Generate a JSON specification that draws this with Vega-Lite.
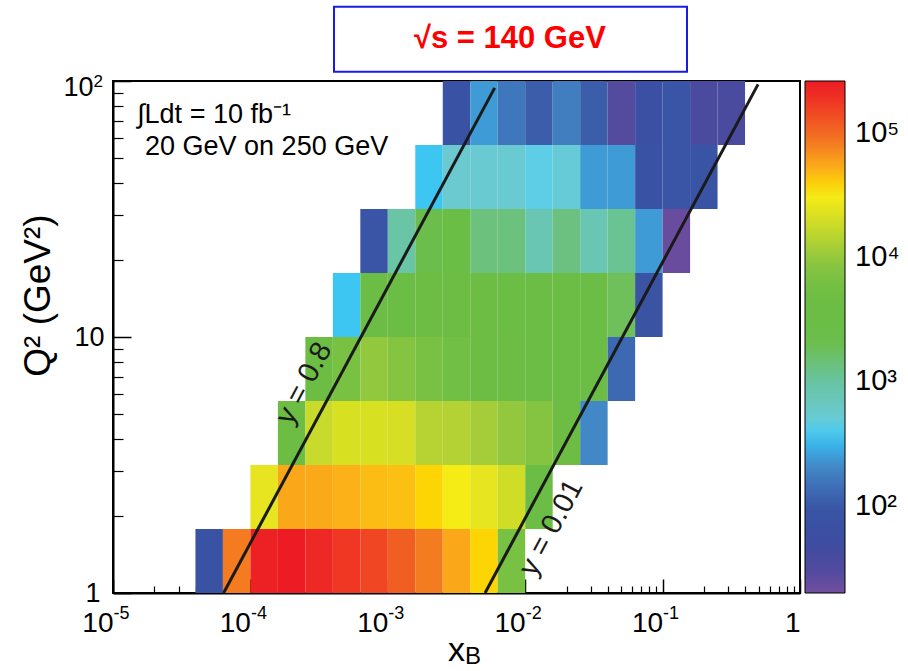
{
  "$schema": "https://vega.github.io/schema/vega-lite/v6.json",
  "width": 687,
  "height": 512,
  "autosize": {"type": "none"},
  "padding": {"left": 113, "top": 81, "right": 108, "bottom": 78},
  "background": "white",
  "config": {
    "font": "Liberation Sans",
    "view": {"stroke": "black", "strokeWidth": 2},
    "axis": {"labelFont": "Liberation Sans", "titleFont": "Liberation Sans", "labelColor": "black", "titleColor": "black", "titleFontWeight": "normal", "grid": false, "tickColor": "black", "domainColor": "black"},
    "legend": {"labelFont": "Liberation Sans", "labelColor": "black"}
  },
  "datasets": {
    "cells": [
      {"xlo": 3.981e-5, "xhi": 6.310e-5, "qlo": 1, "qhi": 1.778, "n": 77},
      {"xlo": 6.310e-5, "xhi": 1.000e-4, "qlo": 1, "qhi": 1.778, "n": 81400},
      {"xlo": 1.000e-4, "xhi": 1.585e-4, "qlo": 1, "qhi": 1.778, "n": 240000},
      {"xlo": 1.585e-4, "xhi": 2.512e-4, "qlo": 1, "qhi": 1.778, "n": 258000},
      {"xlo": 2.512e-4, "xhi": 3.981e-4, "qlo": 1, "qhi": 1.778, "n": 214000},
      {"xlo": 3.981e-4, "xhi": 6.310e-4, "qlo": 1, "qhi": 1.778, "n": 177000},
      {"xlo": 6.310e-4, "xhi": 1.000e-3, "qlo": 1, "qhi": 1.778, "n": 145000},
      {"xlo": 1.000e-3, "xhi": 1.585e-3, "qlo": 1, "qhi": 1.778, "n": 112000},
      {"xlo": 1.585e-3, "xhi": 2.512e-3, "qlo": 1, "qhi": 1.778, "n": 81000},
      {"xlo": 2.512e-3, "xhi": 3.981e-3, "qlo": 1, "qhi": 1.778, "n": 55000},
      {"xlo": 3.981e-3, "xhi": 6.310e-3, "qlo": 1, "qhi": 1.778, "n": 37500},
      {"xlo": 6.310e-3, "xhi": 1.000e-2, "qlo": 1, "qhi": 1.778, "n": 6500},

      {"xlo": 1.000e-4, "xhi": 1.585e-4, "qlo": 1.778, "qhi": 3.162, "n": 25500},
      {"xlo": 1.585e-4, "xhi": 2.512e-4, "qlo": 1.778, "qhi": 3.162, "n": 55000},
      {"xlo": 2.512e-4, "xhi": 3.981e-4, "qlo": 1.778, "qhi": 3.162, "n": 54000},
      {"xlo": 3.981e-4, "xhi": 6.310e-4, "qlo": 1.778, "qhi": 3.162, "n": 50000},
      {"xlo": 6.310e-4, "xhi": 1.000e-3, "qlo": 1.778, "qhi": 3.162, "n": 45500},
      {"xlo": 1.000e-3, "xhi": 1.585e-3, "qlo": 1.778, "qhi": 3.162, "n": 44000},
      {"xlo": 1.585e-3, "xhi": 2.512e-3, "qlo": 1.778, "qhi": 3.162, "n": 37500},
      {"xlo": 2.512e-3, "xhi": 3.981e-3, "qlo": 1.778, "qhi": 3.162, "n": 30900},
      {"xlo": 3.981e-3, "xhi": 6.310e-3, "qlo": 1.778, "qhi": 3.162, "n": 25500},
      {"xlo": 6.310e-3, "xhi": 1.000e-2, "qlo": 1.778, "qhi": 3.162, "n": 19000},
      {"xlo": 1.000e-2, "xhi": 1.585e-2, "qlo": 1.778, "qhi": 3.162, "n": 3700},

      {"xlo": 1.585e-4, "xhi": 2.512e-4, "qlo": 3.162, "qhi": 5.623, "n": 4470},
      {"xlo": 2.512e-4, "xhi": 3.981e-4, "qlo": 3.162, "qhi": 5.623, "n": 17300},
      {"xlo": 3.981e-4, "xhi": 6.310e-4, "qlo": 3.162, "qhi": 5.623, "n": 21000},
      {"xlo": 6.310e-4, "xhi": 1.000e-3, "qlo": 3.162, "qhi": 5.623, "n": 21000},
      {"xlo": 1.000e-3, "xhi": 1.585e-3, "qlo": 3.162, "qhi": 5.623, "n": 20500},
      {"xlo": 1.585e-3, "xhi": 2.512e-3, "qlo": 3.162, "qhi": 5.623, "n": 14300},
      {"xlo": 2.512e-3, "xhi": 3.981e-3, "qlo": 3.162, "qhi": 5.623, "n": 14000},
      {"xlo": 3.981e-3, "xhi": 6.310e-3, "qlo": 3.162, "qhi": 5.623, "n": 11700},
      {"xlo": 6.310e-3, "xhi": 1.000e-2, "qlo": 3.162, "qhi": 5.623, "n": 9680},
      {"xlo": 1.000e-2, "xhi": 1.585e-2, "qlo": 3.162, "qhi": 5.623, "n": 7980},
      {"xlo": 1.585e-2, "xhi": 2.512e-2, "qlo": 3.162, "qhi": 5.623, "n": 4470},
      {"xlo": 2.512e-2, "xhi": 3.981e-2, "qlo": 3.162, "qhi": 5.623, "n": 202},

      {"xlo": 2.512e-4, "xhi": 3.981e-4, "qlo": 5.623, "qhi": 10, "n": 4470},
      {"xlo": 3.981e-4, "xhi": 6.310e-4, "qlo": 5.623, "qhi": 10, "n": 6580},
      {"xlo": 6.310e-4, "xhi": 1.000e-3, "qlo": 5.623, "qhi": 10, "n": 9500},
      {"xlo": 1.000e-3, "xhi": 1.585e-3, "qlo": 5.623, "qhi": 10, "n": 7980},
      {"xlo": 1.585e-3, "xhi": 2.512e-3, "qlo": 5.623, "qhi": 10, "n": 6500},
      {"xlo": 2.512e-3, "xhi": 3.981e-3, "qlo": 5.623, "qhi": 10, "n": 5420},
      {"xlo": 3.981e-3, "xhi": 6.310e-3, "qlo": 5.623, "qhi": 10, "n": 4400},
      {"xlo": 6.310e-3, "xhi": 1.000e-2, "qlo": 5.623, "qhi": 10, "n": 4300},
      {"xlo": 1.000e-2, "xhi": 1.585e-2, "qlo": 5.623, "qhi": 10, "n": 4200},
      {"xlo": 1.585e-2, "xhi": 2.512e-2, "qlo": 5.623, "qhi": 10, "n": 4000},
      {"xlo": 2.512e-2, "xhi": 3.981e-2, "qlo": 5.623, "qhi": 10, "n": 3800},
      {"xlo": 3.981e-2, "xhi": 6.310e-2, "qlo": 5.623, "qhi": 10, "n": 137},

      {"xlo": 3.981e-4, "xhi": 6.310e-4, "qlo": 10, "qhi": 17.78, "n": 361},
      {"xlo": 6.310e-4, "xhi": 1.000e-3, "qlo": 10, "qhi": 17.78, "n": 4000},
      {"xlo": 1.000e-3, "xhi": 1.585e-3, "qlo": 10, "qhi": 17.78, "n": 4200},
      {"xlo": 1.585e-3, "xhi": 2.512e-3, "qlo": 10, "qhi": 17.78, "n": 4300},
      {"xlo": 2.512e-3, "xhi": 3.981e-3, "qlo": 10, "qhi": 17.78, "n": 4400},
      {"xlo": 3.981e-3, "xhi": 6.310e-3, "qlo": 10, "qhi": 17.78, "n": 4300},
      {"xlo": 6.310e-3, "xhi": 1.000e-2, "qlo": 10, "qhi": 17.78, "n": 4200},
      {"xlo": 1.000e-2, "xhi": 1.585e-2, "qlo": 10, "qhi": 17.78, "n": 4100},
      {"xlo": 1.585e-2, "xhi": 2.512e-2, "qlo": 10, "qhi": 17.78, "n": 4000},
      {"xlo": 2.512e-2, "xhi": 3.981e-2, "qlo": 10, "qhi": 17.78, "n": 3700},
      {"xlo": 3.981e-2, "xhi": 6.310e-2, "qlo": 10, "qhi": 17.78, "n": 1690},
      {"xlo": 6.310e-2, "xhi": 0.1, "qlo": 10, "qhi": 17.78, "n": 80},

      {"xlo": 6.310e-4, "xhi": 1.000e-3, "qlo": 17.78, "qhi": 31.62, "n": 93},
      {"xlo": 1.000e-3, "xhi": 1.585e-3, "qlo": 17.78, "qhi": 31.62, "n": 948},
      {"xlo": 1.585e-3, "xhi": 2.512e-3, "qlo": 17.78, "qhi": 31.62, "n": 2060},
      {"xlo": 2.512e-3, "xhi": 3.981e-3, "qlo": 17.78, "qhi": 31.62, "n": 3030},
      {"xlo": 3.981e-3, "xhi": 6.310e-3, "qlo": 17.78, "qhi": 31.62, "n": 1400},
      {"xlo": 6.310e-3, "xhi": 1.000e-2, "qlo": 17.78, "qhi": 31.62, "n": 1400},
      {"xlo": 1.000e-2, "xhi": 1.585e-2, "qlo": 17.78, "qhi": 31.62, "n": 782},
      {"xlo": 1.585e-2, "xhi": 2.512e-2, "qlo": 17.78, "qhi": 31.62, "n": 1350},
      {"xlo": 2.512e-2, "xhi": 3.981e-2, "qlo": 17.78, "qhi": 31.62, "n": 782},
      {"xlo": 3.981e-2, "xhi": 6.310e-2, "qlo": 17.78, "qhi": 31.62, "n": 1150},
      {"xlo": 6.310e-2, "xhi": 0.1, "qlo": 17.78, "qhi": 31.62, "n": 245},
      {"xlo": 0.1, "xhi": 0.1585, "qlo": 17.78, "qhi": 31.62, "n": 22},

      {"xlo": 1.585e-3, "xhi": 2.512e-3, "qlo": 31.62, "qhi": 56.23, "n": 361},
      {"xlo": 2.512e-3, "xhi": 3.981e-3, "qlo": 31.62, "qhi": 56.23, "n": 531},
      {"xlo": 3.981e-3, "xhi": 6.310e-3, "qlo": 31.62, "qhi": 56.23, "n": 520},
      {"xlo": 6.310e-3, "xhi": 1.000e-2, "qlo": 31.62, "qhi": 56.23, "n": 520},
      {"xlo": 1.000e-2, "xhi": 1.585e-2, "qlo": 31.62, "qhi": 56.23, "n": 438},
      {"xlo": 1.585e-2, "xhi": 2.512e-2, "qlo": 31.62, "qhi": 56.23, "n": 500},
      {"xlo": 2.512e-2, "xhi": 3.981e-2, "qlo": 31.62, "qhi": 56.23, "n": 245},
      {"xlo": 3.981e-2, "xhi": 6.310e-2, "qlo": 31.62, "qhi": 56.23, "n": 245},
      {"xlo": 6.310e-2, "xhi": 0.1, "qlo": 31.62, "qhi": 56.23, "n": 77},
      {"xlo": 0.1, "xhi": 0.1585, "qlo": 31.62, "qhi": 56.23, "n": 93},
      {"xlo": 0.1585, "xhi": 0.2512, "qlo": 31.62, "qhi": 56.23, "n": 90},

      {"xlo": 2.512e-3, "xhi": 3.981e-3, "qlo": 56.23, "qhi": 100, "n": 77},
      {"xlo": 3.981e-3, "xhi": 6.310e-3, "qlo": 56.23, "qhi": 100, "n": 245},
      {"xlo": 6.310e-3, "xhi": 1.000e-2, "qlo": 56.23, "qhi": 100, "n": 166},
      {"xlo": 1.000e-2, "xhi": 1.585e-2, "qlo": 56.23, "qhi": 100, "n": 113},
      {"xlo": 1.585e-2, "xhi": 2.512e-2, "qlo": 56.23, "qhi": 100, "n": 180},
      {"xlo": 2.512e-2, "xhi": 3.981e-2, "qlo": 56.23, "qhi": 100, "n": 113},
      {"xlo": 3.981e-2, "xhi": 6.310e-2, "qlo": 56.23, "qhi": 100, "n": 29},
      {"xlo": 6.310e-2, "xhi": 0.1, "qlo": 56.23, "qhi": 100, "n": 63},
      {"xlo": 0.1, "xhi": 0.1585, "qlo": 56.23, "qhi": 100, "n": 93},
      {"xlo": 0.1585, "xhi": 0.2512, "qlo": 56.23, "qhi": 100, "n": 35},
      {"xlo": 0.2512, "xhi": 0.3981, "qlo": 56.23, "qhi": 100, "n": 35}
    ],
    "lines": [
      {"id": "y08", "x": 6.378e-5, "q": 1},
      {"id": "y08", "x": 5.995e-3, "q": 94},
      {"id": "y001", "x": 5.102e-3, "q": 1},
      {"id": "y001", "x": 0.4949, "q": 97}
    ],
    "linelabels": [
      {"t": "y = 0.8", "x": 2.45e-4, "q": 6.6},
      {"t": "y = 0.01", "x": 0.0154, "q": 1.8}
    ],
    "notes": [
      {"t": "∫Ldt = 10 fb⁻¹", "x": 1.5e-5, "q": 73.7},
      {"t": "20 GeV on 250 GeV", "x": 1.71e-5, "q": 55.3}
    ],
    "box": [
      {"x1": 4.06e-4, "x2": 0.1505, "q1": 108.7, "q2": 195}
    ],
    "boxtext": [
      {"t": "√s = 140 GeV", "x": 7.74e-3, "q": 146}
    ],
    "sub": [
      {"t": "B", "x": 4.17e-3, "q": 0.56}
    ]
  },
  "resolve": {"axis": {"x": "independent", "y": "independent"}},
  "layer": [
    {
      "data": {"name": "cells"},
      "mark": {"type": "rect"},
      "encoding": {
        "x": {
          "field": "xlo", "type": "quantitative",
          "scale": {"type": "log", "domain": [0.00001, 1]},
          "axis": {
            "orient": "bottom",
            "title": "x", "titleFontSize": 34, "titleX": 343, "titleY": 57, "titleAlign": "center", "titleBaseline": "middle",
            "values": [0.00001, 0.0001, 0.001, 0.01, 0.1, 1],
            "labelExpr": "datum.value > 0.5 ? '1' : '10'",
            "labelAlign": "right", "labelDx": 7,
            "labelFontSize": 28, "labelFlush": false, "labelOverlap": false, "labelPadding": 30,
            "tickSize": -14, "tickWidth": 1.5, "domainWidth": 2
          }
        },
        "x2": {"field": "xhi"},
        "y": {
          "field": "qlo", "type": "quantitative",
          "scale": {"type": "log", "domain": [1, 100]},
          "axis": {
            "orient": "left",
            "title": "Q² (GeV²)", "titleFontSize": 37, "titleX": -75, "titleY": 214, "titleAlign": "center", "titleBaseline": "middle", "titleAngle": -90,
            "values": [1, 10, 100],
            "labelExpr": "datum.value > 5 ? '10' : '1'",
            "labelAlign": "right",
            "labelFontSize": 27, "labelFlush": false, "labelOverlap": false,
            "labelPadding": {"condition": [{"test": "datum.value > 50", "value": 38}, {"test": "datum.value < 5", "value": 31}], "value": 27},
            "labelOffset": {"condition": {"test": "datum.value > 50", "value": 6}, "value": 0},
            "tickSize": -18, "tickWidth": 1.5, "domainWidth": 2
          }
        },
        "y2": {"field": "qhi"},
        "color": {
          "field": "n", "type": "quantitative",
          "scale": {
            "type": "log",
            "domain": [19.8, 24.0, 29.1, 35.3, 42.9, 52.0, 63.1, 76.6, 93, 113, 137, 166, 202, 245, 297, 361, 438, 531, 644, 782, 948, 1150, 1400, 1690, 2060, 2500, 3030, 3680, 4470, 5420, 6580, 7980, 9680, 11700, 14300, 17300, 21000, 25500, 30900, 37500, 45500, 55300, 67100, 81400, 98800, 119900, 145500, 176600, 214300, 260000],
            "range": ["#734ea0", "#624b9e", "#544a9e", "#4a4a9e", "#434b9f", "#3d4ea1", "#3b50a2", "#3a52a3", "#3a55a5", "#3b5daa", "#3c69b1", "#3f77bc", "#4287c6", "#3e9bd5", "#3ab0e6", "#3dc6f1", "#5ecde6", "#6acacf", "#6bc8c0", "#69c6b2", "#69c5a6", "#6ac393", "#6cc17d", "#6fbf5a", "#6bbe4c", "#6abd46", "#6abd45", "#6bbd45", "#6dbd45", "#71bf44", "#79c143", "#84c441", "#93c83e", "#a4cd39", "#b6d333", "#c8da2b", "#d8e022", "#e6e51f", "#f6ec15", "#fdd505", "#fbbc14", "#faa61a", "#f7921d", "#f47b20", "#f26922", "#f15822", "#f04623", "#ef3724", "#ee2824", "#ed1c24"],
            "interpolate": "rgb"
          },
          "legend": {
            "orient": "none", "legendX": 692, "legendY": 0, "direction": "vertical",
            "gradientLength": 512, "gradientThickness": 40, "title": null,
            "values": [100, 1000, 10000, 100000],
            "labelExpr": "datum.value < 500 ? '10²' : datum.value < 5000 ? '10³' : datum.value < 50000 ? '10⁴' : '10⁵'",
            "labelFontSize": 29, "labelOffset": 10, "labelOverlap": false,
            "gradientStrokeColor": "black", "gradientStrokeWidth": 1
          }
        }
      }
    },
    {
      "data": {"name": "lines"},
      "mark": {"type": "line", "color": "#1a1a1a", "strokeWidth": 3},
      "encoding": {
        "x": {
          "field": "x", "type": "quantitative",
          "scale": {"type": "log", "domain": [0.00001, 1]},
          "axis": {
            "orient": "bottom", "title": null, "labels": false, "domain": false,
            "values": [0.00002, 0.00003, 0.00004, 0.00005, 0.00006, 0.00007, 0.00008, 0.00009, 0.0002, 0.0003, 0.0004, 0.0005, 0.0006, 0.0007, 0.0008, 0.0009, 0.002, 0.003, 0.004, 0.005, 0.006, 0.007, 0.008, 0.009, 0.02, 0.03, 0.04, 0.05, 0.06, 0.07, 0.08, 0.09, 0.2, 0.3, 0.4, 0.5, 0.6, 0.7, 0.8, 0.9],
            "tickSize": -7, "tickWidth": 1.2
          }
        },
        "y": {
          "field": "q", "type": "quantitative",
          "scale": {"type": "log", "domain": [1, 100]},
          "axis": {
            "orient": "left", "title": null, "labels": false, "domain": false,
            "values": [2, 3, 4, 5, 6, 7, 8, 9, 20, 30, 40, 50, 60, 70, 80, 90],
            "tickSize": -10, "tickWidth": 1.2
          }
        },
        "detail": {"field": "id"}
      }
    },
    {
      "data": {"name": "linelabels"},
      "mark": {"type": "text", "angle": 298, "fontSize": 29, "color": "#1a1a1a", "align": "center", "baseline": "middle"},
      "encoding": {
        "x": {"field": "x", "type": "quantitative", "scale": {"type": "log", "domain": [0.00001, 1]}, "axis": null},
        "y": {"field": "q", "type": "quantitative", "scale": {"type": "log", "domain": [1, 100]}, "axis": null},
        "text": {"field": "t"}
      }
    },
    {
      "data": {"name": "notes"},
      "mark": {"type": "text", "fontSize": 27, "color": "black", "align": "left", "baseline": "middle"},
      "encoding": {
        "x": {
          "field": "x", "type": "quantitative", "scale": {"type": "log", "domain": [0.00001, 1]},
          "axis": {
            "orient": "bottom", "title": null, "domain": false, "ticks": false, "tickSize": 0,
            "values": [0.00001, 0.0001, 0.001, 0.01, 0.1],
            "labelExpr": "datum.value < 0.00005 ? '-5' : datum.value < 0.0005 ? '-4' : datum.value < 0.005 ? '-3' : datum.value < 0.05 ? '-2' : '-1'",
            "labelAlign": "left", "labelDx": 7, "labelFontSize": 18, "labelPadding": 11, "labelFlush": false, "labelOverlap": false
          }
        },
        "y": {
          "field": "q", "type": "quantitative", "scale": {"type": "log", "domain": [1, 100]},
          "axis": {
            "orient": "left", "title": null, "domain": false, "ticks": false, "tickSize": 0,
            "values": [100],
            "labelExpr": "'2'",
            "labelAlign": "left", "labelFontSize": 17, "labelPadding": 20, "labelOffset": 0, "labelFlush": false, "labelOverlap": false
          }
        },
        "text": {"field": "t"}
      }
    },
    {
      "data": {"name": "box"},
      "mark": {"type": "rect", "fill": "white", "stroke": "#1a1ae6", "strokeWidth": 2},
      "encoding": {
        "x": {"field": "x1", "type": "quantitative", "scale": {"type": "log", "domain": [0.00001, 1]}, "axis": null},
        "x2": {"field": "x2"},
        "y": {"field": "q1", "type": "quantitative", "scale": {"type": "log", "domain": [1, 100]}, "axis": null},
        "y2": {"field": "q2"}
      }
    },
    {
      "data": {"name": "boxtext"},
      "mark": {"type": "text", "fontSize": 31, "fontWeight": "bold", "color": "#ff0000", "align": "center", "baseline": "middle"},
      "encoding": {
        "x": {"field": "x", "type": "quantitative", "scale": {"type": "log", "domain": [0.00001, 1]}, "axis": null},
        "y": {"field": "q", "type": "quantitative", "scale": {"type": "log", "domain": [1, 100]}, "axis": null},
        "text": {"field": "t"}
      }
    },
    {
      "data": {"name": "sub"},
      "mark": {"type": "text", "fontSize": 24, "color": "black", "align": "center", "baseline": "middle"},
      "encoding": {
        "x": {"field": "x", "type": "quantitative", "scale": {"type": "log", "domain": [0.00001, 1]}, "axis": null},
        "y": {"field": "q", "type": "quantitative", "scale": {"type": "log", "domain": [1, 100]}, "axis": null},
        "text": {"field": "t"}
      }
    }
  ]
}
